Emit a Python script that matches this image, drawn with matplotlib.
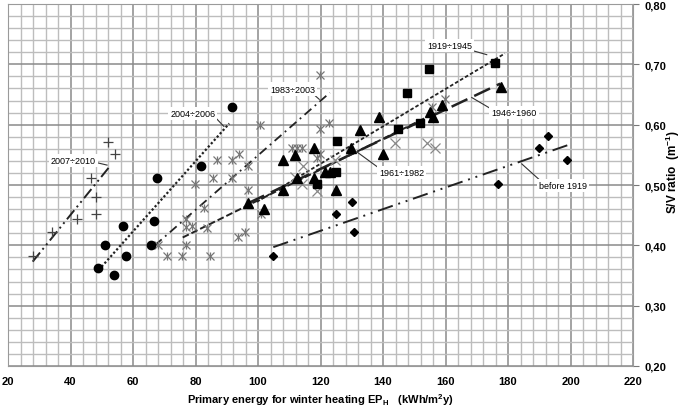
import matplotlib.pyplot as plt
import numpy as np
from matplotlib.ticker import MultipleLocator, FuncFormatter

plt.rcParams['font.family'] = ['Liberation Sans Narrow', 'Liberation Sans', 'DejaVu Sans']

# data
circ_x = [48.8, 50.9, 53.8, 56.8, 57.8, 65.9, 66.8, 67.8, 81.8, 91.7]
circ_y = [0.362, 0.401, 0.351, 0.432, 0.382, 0.401, 0.441, 0.511, 0.532, 0.630]

plus_x = [28.1, 34.0, 42.0, 48.1, 48.1, 46.7, 51.9, 54.2]
plus_y = [0.383, 0.422, 0.443, 0.452, 0.480, 0.512, 0.571, 0.552]

sq_x = [118.8, 125.0, 125.2, 144.9, 147.8, 151.8, 154.8, 175.8]
sq_y = [0.502, 0.521, 0.573, 0.592, 0.652, 0.602, 0.692, 0.703]

tri_x = [96.9, 101.9, 107.9, 107.9, 111.8, 112.6, 117.8, 118.0, 121.5, 123.0, 125.0,
         129.8, 132.6, 138.8, 139.9, 155.0, 155.9, 158.8, 177.6]
tri_y = [0.470, 0.461, 0.491, 0.542, 0.550, 0.512, 0.561, 0.511, 0.521, 0.522, 0.491,
         0.561, 0.591, 0.612, 0.551, 0.621, 0.612, 0.632, 0.663]

dia_x = [104.7, 125.0, 130.0, 130.8, 176.9, 189.9, 192.9, 198.8]
dia_y = [0.382, 0.452, 0.472, 0.422, 0.501, 0.561, 0.581, 0.541]

star_x = [68.1, 70.8, 75.8, 76.9, 76.9, 76.9, 79.0, 79.8, 82.7, 83.6, 84.6, 85.7, 87.0,
          91.8, 91.8, 93.9, 96.9, 96.9, 100.6, 100.9, 95.8, 93.7, 110.8, 112.4, 114.0,
          119.8, 119.0, 119.8, 119.8, 122.7, 155.8, 159.8]
star_y = [0.401, 0.383, 0.383, 0.401, 0.443, 0.430, 0.432, 0.501, 0.462, 0.428, 0.383,
          0.512, 0.541, 0.541, 0.512, 0.552, 0.532, 0.492, 0.600, 0.452, 0.422, 0.413,
          0.561, 0.561, 0.561, 0.552, 0.544, 0.683, 0.593, 0.602, 0.630, 0.643]

cross_x = [111.8, 114.0, 114.5, 119.0, 124.6, 143.8, 154.0, 156.6]
cross_y = [0.513, 0.502, 0.532, 0.490, 0.541, 0.570, 0.570, 0.561]

# regression lines: label, x ends, y ends, dash pattern, width
lines = [
    ('2007÷2010', [27.9, 52.9], [0.373, 0.533], (0, (6, 2, 1, 2, 1, 2)), 1.4),
    ('2004÷2006', [49.0, 90.8], [0.359, 0.602], (0, (1, 1)), 1.6),
    ('1983÷2003', [67.0, 123.0], [0.400, 0.653], (0, (5, 2.5, 1, 2.5)), 1.3),
    ('1961÷1982', [75.9, 157.0], [0.413, 0.620], (0, (3.5, 1.5)), 1.4),
    ('1946÷1960', [96.9, 177.5], [0.470, 0.668], (0, (7, 3)), 1.8),
    ('1919÷1945', [99.6, 179.0], [0.472, 0.718], (0, (2, 1.2)), 1.3),
    ('before 1919', [104.9, 199.1], [0.397, 0.566], (0, (8, 3, 1, 3, 1, 3)), 1.4),
]

# label text position and leader line
labels = [
    ('2007÷2010', 40.9, 0.541, [46.8, 51.7], [0.539, 0.533]),
    ('2004÷2006', 79.1, 0.619, [85.6, 89.1], [0.616, 0.597]),
    ('1983÷2003', 111.1, 0.659, [117.2, 119.6], [0.653, 0.642]),
    ('1919÷1945', 161.4, 0.731, [167.8, 173.2], [0.724, 0.716]),
    ('1946÷1960', 181.9, 0.620, [168.4, 175.3], [0.645, 0.624]),
    ('1961÷1982', 146.0, 0.521, [131.6, 139.0], [0.555, 0.527]),
    ('before 1919', 197.7, 0.499, [184.4, 190.2], [0.535, 0.508]),
]

fig = plt.figure(figsize=(6.85, 4.10), dpi=100)
ax = fig.add_axes([8 / 685, 1 - 367 / 410, 625 / 685, 362 / 410])

ax.set_xlim(20, 220)
ax.set_ylim(0.2, 0.8)
ax.yaxis.tick_right()
ax.yaxis.set_label_position('right')
ax.xaxis.set_major_locator(MultipleLocator(20))
ax.xaxis.set_minor_locator(MultipleLocator(4))
ax.yaxis.set_major_locator(MultipleLocator(0.1))
ax.yaxis.set_minor_locator(MultipleLocator(0.02))
ax.set_axisbelow(True)
ax.grid(True, which='minor', color='#bdbdbd', lw=1.0)
ax.grid(True, which='major', color='#8a8a8a', lw=1.1)
for s in ax.spines.values():
    s.set_color('#9a9a9a')

ax.yaxis.set_major_formatter(FuncFormatter(lambda v, p: ('%.2f' % v).replace('.', ',')))
ax.tick_params(which='minor', length=0)
ax.tick_params(axis='x', which='major', length=0, pad=7)
ax.tick_params(axis='y', which='major', length=4, color='#777777', pad=4)
ax.tick_params(labelsize=8)
for t in ax.get_xticklabels() + ax.get_yticklabels():
    t.set_fontweight('bold')

ax.set_xlabel('Primary energy for winter heating EP$_\\mathregular{H}$   (kWh/m$^\\mathregular{2}$y)',
              fontsize=8, fontweight='bold')
ax.xaxis.set_label_coords((320 - 8) / 625, (367 - 392) / 362)
ax.set_ylabel('S/V ratio  (m$^\\mathregular{-1}$)', fontsize=8.5, fontweight='bold')
ax.yaxis.set_label_coords((664 - 8) / 625, (367 - 172) / 362)

for name, lx, ly, ls, lw in lines:
    ax.plot(lx, ly, color='#222222', ls=ls, lw=lw, zorder=3)

ax.plot(star_x, star_y, ls='none', marker='x', ms=6, mew=0.9, color='#777777', zorder=4)
ax.plot(star_x, star_y, ls='none', marker='|', ms=6, mew=0.9, color='#777777', zorder=4)
ax.plot(cross_x, cross_y, ls='none', marker='x', ms=6.5, mew=0.9, color='#888888', zorder=4)
ax.plot(plus_x, plus_y, ls='none', marker='+', ms=7, mew=0.9, color='#444444', zorder=4)
ax.plot(circ_x, circ_y, ls='none', marker='o', ms=6, color='black', zorder=5)
ax.plot(sq_x, sq_y, ls='none', marker='s', ms=5.5, color='black', zorder=5)
ax.plot(tri_x, tri_y, ls='none', marker='^', ms=6.5, color='black', zorder=5)
ax.plot(dia_x, dia_y, ls='none', marker='D', ms=4.5, color='black', zorder=5)

for txt, tx, ty, llx, lly in labels:
    ax.plot(llx, lly, color='#333333', lw=0.8, zorder=6)
    ax.text(tx, ty, txt, fontsize=6.5, ha='center', va='center', zorder=7,
            bbox=dict(fc='white', ec='none', pad=1.5))

fig.savefig('out.png', dpi=100)
